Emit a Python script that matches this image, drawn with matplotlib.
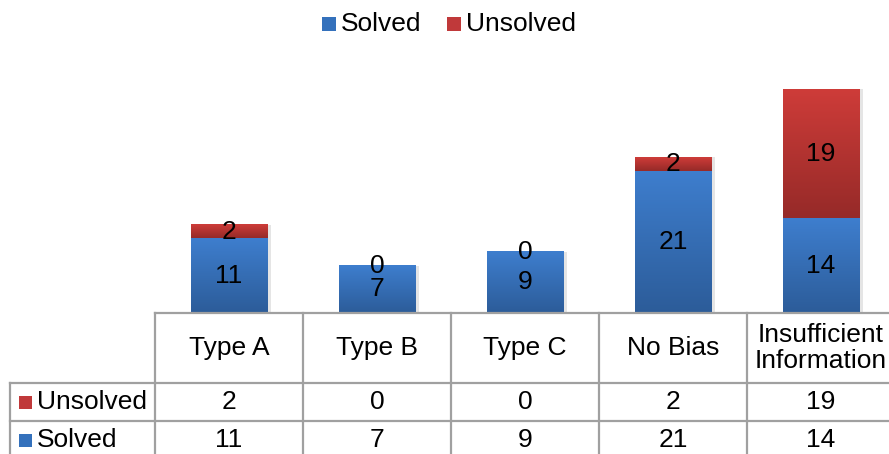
import numpy as np
import matplotlib
matplotlib.use("Agg")
import matplotlib.pyplot as plt
from matplotlib.colors import LinearSegmentedColormap
from matplotlib.lines import Line2D
from matplotlib.patches import Rectangle

plt.rcParams['font.family'] = ['Liberation Sans', 'DejaVu Sans']

categories = ['Type A', 'Type B', 'Type C', 'No Bias', 'Insufficient\nInformation']
solved = [11, 7, 9, 21, 14]
unsolved = [2, 0, 0, 2, 19]

W, H = 889, 454
FS = 19
fig = plt.figure(figsize=(W / 100, H / 100), dpi=100)

# pixel helpers (origin top-left)
def fx(px):
    return px / W

def fy(py):
    return 1 - py / H

left_px, right_px = 155, 895
base_px, top_px = 313, 313 - 35 * 6.78
ax = fig.add_axes([fx(left_px), fy(base_px), fx(right_px - left_px), (base_px - top_px) / H])
ax.axis('off')

blue_cmap = LinearSegmentedColormap.from_list('b', ['#2C5C99', '#3E7ECE'])
red_cmap = LinearSegmentedColormap.from_list('r', ['#962A28', '#CE3C39'])
grad = np.linspace(0, 1, 256).reshape(-1, 1)

x = np.arange(len(categories))
bw = 0.52


def fill_gradient(bars, cmap):
    for b in bars:
        h = b.get_height()
        if h <= 0:
            continue
        x0, y0, w = b.get_x(), b.get_y(), b.get_width()
        # soft drop shadow
        ax.add_patch(Rectangle((x0 + 0.025, y0), w, h, color='#000000', alpha=0.10, lw=0, zorder=1))
        ax.imshow(grad, cmap=cmap, aspect='auto', origin='lower',
                  extent=(x0, x0 + w, y0, y0 + h), zorder=2, interpolation='bilinear')
        b.set_visible(False)


b1 = ax.bar(x, solved, bw, color='#3471BC')
b2 = ax.bar(x, unsolved, bw, bottom=solved, color='#C0393A')
fill_gradient(b1, blue_cmap)
fill_gradient(b2, red_cmap)
ax.set_xlim(-0.5, 4.5)
ax.set_ylim(0, 35)

for i in range(len(categories)):
    ax.text(x[i], solved[i] / 2, str(solved[i]), ha='center', va='center', fontsize=FS, zorder=5)
    ax.text(x[i], solved[i] + unsolved[i] / 2, str(unsolved[i]), ha='center', va='center',
            fontsize=FS, zorder=5)

# data table grid
gc = '#A0A0A0'
lw = 1.6
col_px = [left_px + i * (right_px - left_px) / 5 for i in range(6)]
fig.add_artist(Line2D([fx(left_px), fx(W + 5)], [fy(313), fy(313)], color=gc, lw=lw))
for r in (383, 421):
    fig.add_artist(Line2D([fx(10), fx(W + 5)], [fy(r), fy(r)], color=gc, lw=lw))
for c in col_px[:5]:
    fig.add_artist(Line2D([fx(c), fx(c)], [fy(313), fy(H + 5)], color=gc, lw=lw))
fig.add_artist(Line2D([fx(10), fx(10)], [fy(383), fy(H + 5)], color=gc, lw=lw))

for i, cat in enumerate(categories):
    cx = (col_px[i] + col_px[i + 1]) / 2
    fig.text(fx(cx), fy(348), cat, ha='center', va='center', fontsize=FS, linespacing=1.1)
    fig.text(fx(cx), fy(402), str(unsolved[i]), ha='center', va='center', fontsize=FS)
    fig.text(fx(cx), fy(440), str(solved[i]), ha='center', va='center', fontsize=FS)

# row keys
for py, name, col in [(402, 'Unsolved', '#C0393A'), (440, 'Solved', '#3471BC')]:
    fig.add_artist(Rectangle((fx(19), fy(py + 7)), fx(13), 13 / H, color=col, lw=0))
    fig.text(fx(37), fy(py), name, ha='left', va='center', fontsize=FS)

# legend on top
for px, name, col in [(322, 'Solved', '#3471BC'), (447, 'Unsolved', '#C0393A')]:
    fig.add_artist(Rectangle((fx(px), fy(31)), fx(14), 14 / H, color=col, lw=0))
    fig.text(fx(px + 19), fy(24), name, ha='left', va='center', fontsize=FS)

fig.savefig('out.png', dpi=100)
